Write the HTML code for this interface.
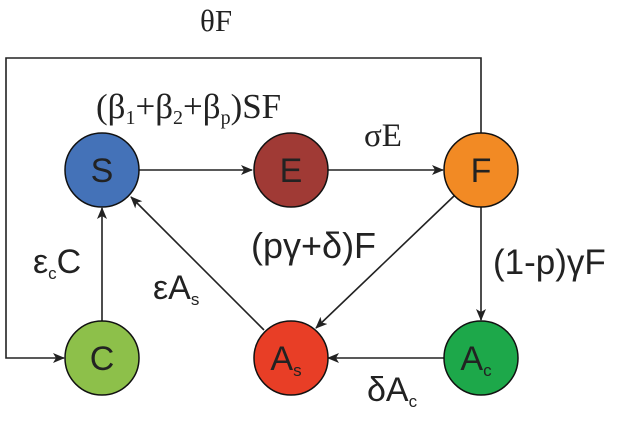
<!DOCTYPE html>
<html><head><style>
html,body{margin:0;padding:0;background:#fff;}
svg{display:block}
.s{font-family:"Liberation Sans",sans-serif;}
.r{font-family:"Liberation Serif",serif;}
</style></head><body>
<svg width="624" height="422" viewBox="0 0 624 422">
<defs><marker id="a" markerWidth="12" markerHeight="10" refX="11" refY="5" orient="auto" markerUnits="userSpaceOnUse"><path d="M0,0 L12,5 L0,10 L3,5 Z" fill="#222"/></marker></defs>
<g stroke="#222" stroke-width="1.6" fill="none">
<polyline points="481,133 481,58 6,58 6,358 64,358" marker-end="url(#a)"/>
<line x1="139" y1="170" x2="252" y2="170" marker-end="url(#a)"/>
<line x1="328" y1="170" x2="443" y2="170" marker-end="url(#a)"/>
<line x1="102" y1="321" x2="102" y2="208" marker-end="url(#a)"/>
<line x1="481" y1="207" x2="481" y2="320" marker-end="url(#a)"/>
<line x1="444" y1="358" x2="328" y2="358" marker-end="url(#a)"/>
<line x1="454" y1="196" x2="316" y2="328" marker-end="url(#a)"/>
<line x1="264" y1="330" x2="131" y2="197" marker-end="url(#a)"/>
</g>
<g stroke="#111" stroke-width="1.5">
<circle cx="102" cy="170" r="37" fill="#4472b8"/>
<circle cx="291" cy="170" r="37" fill="#a03a35"/>
<circle cx="481" cy="170" r="37" fill="#f28a24"/>
<circle cx="102" cy="358" r="37" fill="#8dc04a"/>
<circle cx="291" cy="358" r="37" fill="#e83e26"/>
<circle cx="481" cy="358" r="37" fill="#1da84a"/>
</g>
<g class="s" font-size="34" fill="#222" text-anchor="middle">
<text x="102" y="182">S</text>
<text x="291" y="182">E</text>
<text x="481" y="182">F</text>
<text x="102" y="370">C</text>
<text x="286" y="370">A<tspan font-size="17" dy="6">s</tspan></text>
<text x="476" y="370">A<tspan font-size="17" dy="6">c</tspan></text>
</g>
<g fill="#222" font-size="31">
<text class="r" x="200" y="31">θF</text>
<text class="r" x="96" y="118" font-size="35">(β<tspan font-size="20" dy="6">1</tspan><tspan dy="-6">+β</tspan><tspan font-size="20" dy="6">2</tspan><tspan dy="-6">+β</tspan><tspan font-size="20" dy="6">p</tspan><tspan dy="-6">)SF</tspan></text>
<text class="r" x="364" y="146" font-size="33">σE</text>
<text class="s" x="251" y="258" font-size="36">(pγ+δ)F</text>
<text class="s" x="493" y="274" font-size="35">(1-p)γF</text>
<text class="s" x="33" y="273" font-size="34">ε<tspan font-size="17" dy="6">c</tspan><tspan dy="-6">C</tspan></text>
<text class="s" x="153" y="299" font-size="34">εA<tspan font-size="17" dy="6">s</tspan></text>
<text class="s" x="367" y="401" font-size="34">δA<tspan font-size="17" dy="6">c</tspan></text>
</g>
</svg>
</body></html>
